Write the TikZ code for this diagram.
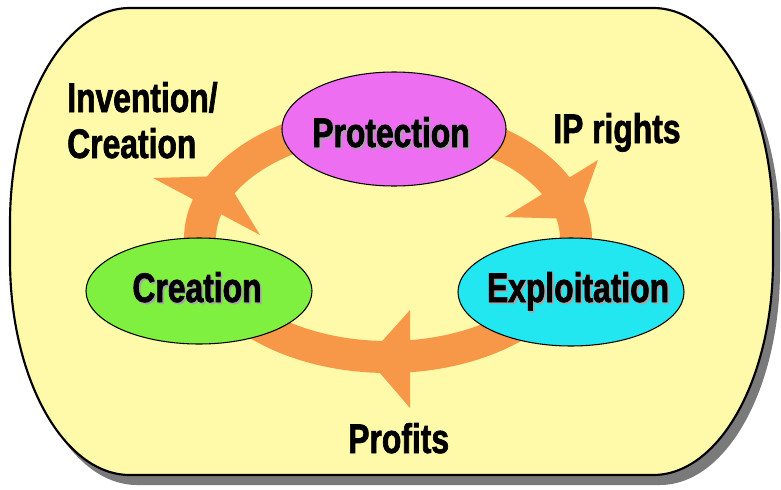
\documentclass[tikz,border=0pt]{standalone}
\usepackage{fontspec}
\usetikzlibrary{shapes.geometric}
\newfontfamily\cond{Liberation Sans}[FakeStretch=0.77, BoldFeatures={FakeBold=1.6}]
\definecolor{bgyellow}{HTML}{FFFAAA}
\definecolor{ringorange}{HTML}{F79848}
\definecolor{protcol}{HTML}{EE6EF2}
\definecolor{creacol}{HTML}{80F040}
\definecolor{explcol}{HTML}{22E6F0}
\definecolor{shadowgray}{HTML}{7A7A7A}
\newcommand\shtxt[1]{\rlap{\kern1.3pt\raisebox{-1.3pt}{\color{black!35}#1}}#1}
\begin{document}
\begin{tikzpicture}[x=0.75pt,y=-0.75pt,
  lbl/.style={inner sep=0pt, font=\cond\bfseries\fontsize{31}{34}\selectfont, text=black},
  oval/.style={ellipse, draw=black, line width=0.8pt, inner sep=0pt},
  ringline/.style={draw=ringorange, line width=24pt},
  headshape/.style={fill=ringorange}]
\useasboundingbox (0,0) rectangle (781,489);
% shadow
\fill[shadowgray] (17,270) -- (17,233) arc[start angle=180,end angle=270,x radius=120,y radius=215]
  -- (660,18) arc[start angle=270,end angle=360,x radius=120,y radius=215]
  -- (780,270) arc[start angle=0,end angle=90,x radius=120,y radius=215]
  -- (137,485) arc[start angle=90,end angle=180,x radius=120,y radius=215] -- cycle;
% panel
\filldraw[fill=bgyellow, draw=black, line width=1.6pt] (10,260) -- (10,223) arc[start angle=180,end angle=270,x radius=120,y radius=215]
  -- (653,8) arc[start angle=270,end angle=360,x radius=120,y radius=215]
  -- (773,260) arc[start angle=0,end angle=90,x radius=120,y radius=215]
  -- (130,475) arc[start angle=90,end angle=180,x radius=120,y radius=215] -- cycle;
% ring
\coordinate (ringc) at (388,239);
\draw[ringline] (ringc) ellipse [x radius=188, y radius=118];
% arrow heads (clockwise)
\fill[headshape] (153,178) -- (260,235) -- (224,176) -- cycle;
\fill[headshape] (598,160) -- (505,217) -- (577,219) -- cycle;
\fill[headshape] (410,310) -- (410,408) -- (367,358) -- cycle;
% ellipses
\node[oval, fill=protcol, minimum width=168pt, minimum height=85.5pt] (prot) at (394,129) {};
\node[oval, fill=creacol, minimum width=169.5pt, minimum height=79.5pt] (crea) at (199,291) {};
\node[oval, fill=explcol, minimum width=169.5pt, minimum height=81pt] (expl) at (571,292) {};
% texts in ellipses
\node[lbl, anchor=base] (prott) at (391,147) {\shtxt{Protection}};
\node[lbl, anchor=base] (creat) at (197,302) {\shtxt{Creation}};
\node[lbl, anchor=base] (explt) at (578,302) {\shtxt{Exploitation}};
% labels
\node[lbl, anchor=base west] (inv1) at (67,112) {Invention/};
\node[lbl, anchor=base west] (inv2) at (67,158) {Creation};
\node[lbl, anchor=base west] (iprt) at (553,143) {IP rights};
\node[lbl, anchor=base west] (prof) at (348,453) {Profits};
\end{tikzpicture}
\end{document}
